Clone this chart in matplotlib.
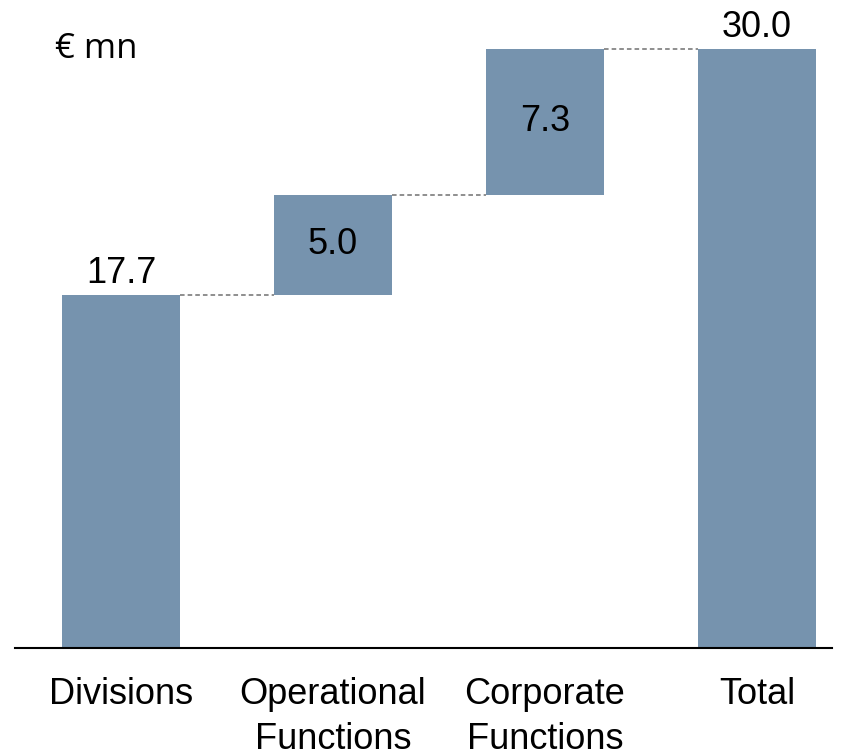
import matplotlib.pyplot as plt

# --- Datos ---
categorias = ["Divisions", "Operational\nFunctions", "Corporate\nFunctions", "Total"]
valores = [17.7, 5.0, 7.3, 30.0]
es_total = [False, False, False, True]
etiquetas = ["17.7", "5.0", "7.3", "30.0"]

color_barra = "#7693ae"

# --- Bases del waterfall ---
bases = []
acum = 0
for v, t in zip(valores, es_total):
    if t:
        bases.append(0)
    else:
        bases.append(acum)
        acum += v

fig = plt.figure(figsize=(8.46, 7.55), dpi=100)
ax = fig.add_axes([15 / 846, 107 / 755, 817 / 846, 648 / 755])

x = list(range(len(categorias)))
ancho = 0.557
ax.bar(x, valores, bottom=bases, width=ancho, color=color_barra, zorder=2)

# --- Conectores punteados ---
for i in range(len(x) - 1):
    nivel = bases[i] + valores[i]
    ax.plot([x[i] + ancho / 2, x[i + 1] - ancho / 2], [nivel, nivel],
            linestyle=(0, (3, 2)), color="#707070", linewidth=1.1, zorder=1)

# --- Etiquetas de valores ---
fuente = "Liberation Sans"
for i, (v, b, t) in enumerate(zip(valores, bases, es_total)):
    if i == 0 or t:
        ax.text(x[i], b + v + 0.2, etiquetas[i], ha="center", va="bottom",
                fontsize=26, family=fuente)
    else:
        ax.text(x[i], b + v / 2, etiquetas[i], ha="center", va="center",
                fontsize=26, family=fuente)

ax.text(-0.31, 30.0, "€ mn", ha="left", va="center", fontsize=25, family="Open Sans")

ax.set_xlim(-0.5, 3.354)
ax.set_ylim(0, 32.45)
ax.set_xticks(x)
ax.set_xticklabels(categorias, fontsize=26, family=fuente, linespacing=1.36)
ax.tick_params(axis="x", length=0, pad=21)
ax.set_yticks([])
for lado in ["top", "right", "left"]:
    ax.spines[lado].set_visible(False)
ax.spines["bottom"].set_linewidth(1.5)

plt.savefig("out.png", dpi=100)
